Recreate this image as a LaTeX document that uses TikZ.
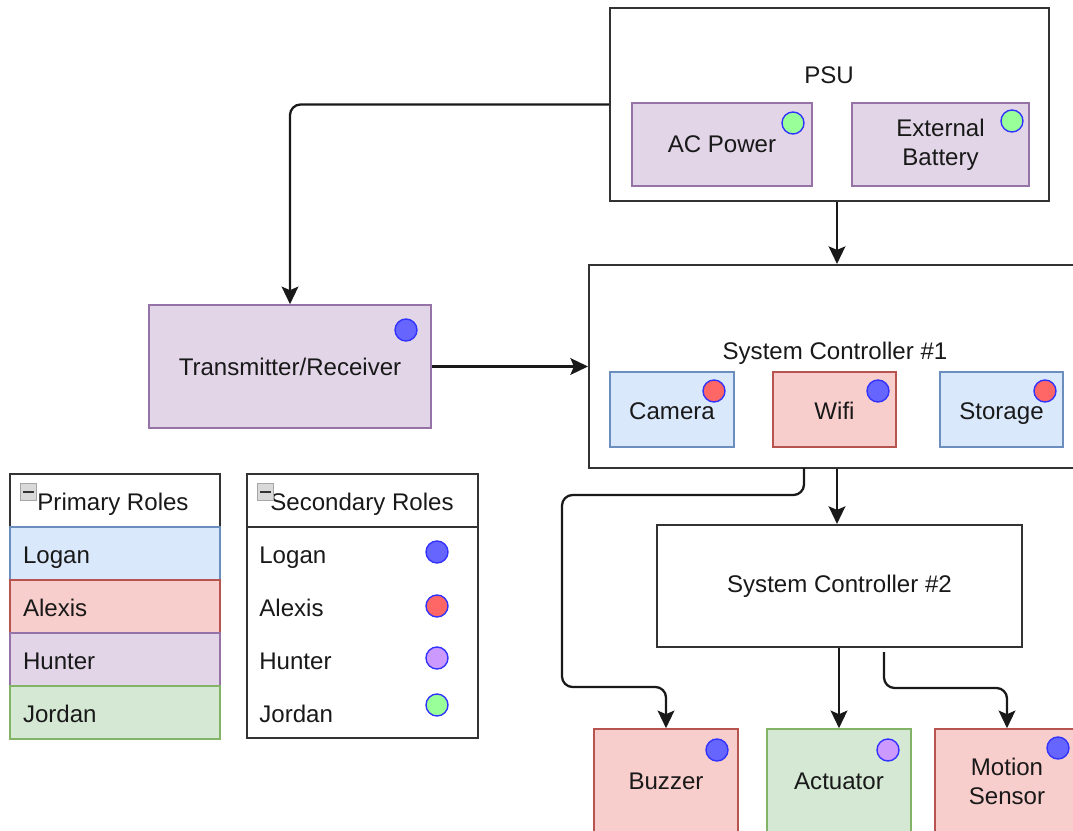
\documentclass[tikz,border=0pt]{standalone}
\usepackage{fontspec}
\setmainfont{Liberation Sans}
\usetikzlibrary{arrows.meta, positioning}

\definecolor{boxline}{HTML}{333333}
\definecolor{loganF}{HTML}{DAE8FC}\definecolor{loganD}{HTML}{6C8EBF}
\definecolor{alexisF}{HTML}{F8CECC}\definecolor{alexisD}{HTML}{B85450}
\definecolor{hunterF}{HTML}{E1D5E7}\definecolor{hunterD}{HTML}{9673A6}
\definecolor{jordanF}{HTML}{D5E8D4}\definecolor{jordanD}{HTML}{82B366}
\definecolor{dotline}{HTML}{3333FF}
\definecolor{dotL}{HTML}{6666FF}
\definecolor{dotA}{HTML}{FF6666}
\definecolor{dotH}{HTML}{CC99FF}
\definecolor{dotJ}{HTML}{99FF99}

\tikzset{
	every node/.style={font=\fontsize{13.7}{16.5}\selectfont, text=black!90},
	tx/.style={text height=12.5pt, text depth=1pt},
	box/.style={draw=boxline, line width=1.2pt, fill=white, rectangle},
	logan/.style={draw=loganD, fill=loganF, line width=0.9pt},
	alexis/.style={draw=alexisD, fill=alexisF, line width=0.9pt},
	hunter/.style={draw=hunterD, fill=hunterF, line width=0.9pt},
	jordan/.style={draw=jordanD, fill=jordanF, line width=0.9pt},
	dot/.style={circle, draw=dotline, line width=0.8pt, fill=#1, minimum size=0.44cm, inner sep=0pt},
	row/.style={tx, minimum height=1.06cm, text width=3.68cm, inner xsep=0.26cm, align=left},
	lbl/.style={tx, anchor=west, inner sep=0pt},
	minus/.style={draw=gray!70, fill=gray!30, minimum size=0.33cm, inner sep=0pt, rectangle},
	link/.style={->, line width=1.3pt, draw=black!90, rounded corners=6pt},
}

\begin{document}
\begin{tikzpicture}[x=0.02cm, y=-0.02cm, >={Stealth[length=10pt, width=9.5pt, inset=2pt]}]
	\useasboundingbox (0,0) rectangle (1073,831);
	\clip (0,0) rectangle (1073,831);

	% PSU
	\node[box, minimum width=8.78cm, minimum height=3.86cm] (psu) at (829.5,104.5) {};
	\node (psu-t) at (829,75) {PSU};
	\node[hunter, minimum width=3.6cm, minimum height=1.66cm] (acp) at (722,144.5) {AC Power};
	\node[hunter, minimum width=3.54cm, minimum height=1.66cm, align=center] (bat) at (940.5,144.5) {External\\Battery};
	\node[dot=dotJ] (acp-d) at (793,123) {};
	\node[dot=dotJ] (bat-d) at (1012,121) {};

	% Transmitter
	\node[hunter, minimum width=5.64cm, minimum height=2.46cm] (trx) at (290,366.5) {Transmitter/Receiver};
	\node[dot=dotL] (trx-d) at (406,330) {};

	% System Controller #1
	\node[box, minimum width=9.92cm, minimum height=4.06cm] (sc1) at (837,366.5) {};
	\node (sc1-t) at (835,353) {System Controller \#1};
	\node[logan, tx, minimum width=2.48cm, minimum height=1.5cm] (cam) at (672,409.5) {Camera};
	\node[alexis, tx, minimum width=2.46cm, minimum height=1.5cm] (wifi) at (834.5,409.5) {Wifi};
	\node[logan, tx, minimum width=2.46cm, minimum height=1.5cm] (sto) at (1001.5,409.5) {Storage};
	\node[dot=dotA] (cam-d) at (714,391) {};
	\node[dot=dotL] (wifi-d) at (878,391) {};
	\node[dot=dotA] (sto-d) at (1045,391) {};

	% System Controller #2 and outputs
	\node[box, minimum width=7.3cm, minimum height=2.44cm] (sc2) at (839.5,586) {System Controller \#2};
	\node[alexis, minimum width=2.88cm, minimum height=2.08cm] (buz) at (666,781) {Buzzer};
	\node[jordan, minimum width=2.88cm, minimum height=2.08cm] (act) at (839,781) {Actuator};
	\node[alexis, minimum width=2.88cm, minimum height=2.08cm, align=center] (mot) at (1007,781) {Motion\\Sensor};
	\node[dot=dotL] (buz-d) at (717,750) {};
	\node[dot=dotH] (act-d) at (888,750) {};
	\node[dot=dotL] (mot-d) at (1058,748) {};

	% Connections
	\coordinate (buz-src) at (804,468);
	\coordinate (mot-src) at (884,652);
	\draw[link] (psu.west) -| (trx.north);
	\draw[link] (sc1.north |- psu.south) -- (sc1.north);
	\draw[link] (trx) -- (sc1);
	\draw[link] (sc1.south) -- (sc1.south |- sc2.north);
	\draw[link] (buz-src) -- ++(0,27) -| (562,687) -| (buz.north);
	\draw[link] (sc2.south -| act.north) -- (act.north);
	\draw[link] (mot-src) -- ++(0,36) -| (mot.north);

	% Primary roles
	\node[box, minimum width=4.2cm, minimum height=1.06cm] (pri) at (115,500.5) {};
	\node[tx] (pri-t) at (113,500.5) {Primary Roles};
	\node[minus] (pri-m) at (28.5,492) {};
	\draw[gray!40!black, line width=1.2pt] ([xshift=-3pt]pri-m.center) -- ([xshift=3pt]pri-m.center);
	\node[row, logan] (pri-l) at (115,553.5) {Logan};
	\node[row, alexis] (pri-a) at (115,606.5) {Alexis};
	\node[row, hunter] (pri-h) at (115,659.5) {Hunter};
	\node[row, jordan] (pri-j) at (115,712.5) {Jordan};

	% Secondary roles
	\node[box, minimum width=4.62cm, minimum height=5.28cm] (sec) at (362.5,606) {};
	\draw[boxline, line width=1.2pt] (sec.west |- 0,527) -- (sec.east |- 0,527);
	\node[tx] (sec-t) at (362,500.5) {Secondary Roles};
	\node[minus] (sec-m) at (265.5,492) {};
	\draw[gray!40!black, line width=1.2pt] ([xshift=-3pt]sec-m.center) -- ([xshift=3pt]sec-m.center);
	\node[lbl] (sec-l) at (259,553.5) {Logan};
	\node[lbl] (sec-a) at (259,606.5) {Alexis};
	\node[lbl] (sec-h) at (259,659.5) {Hunter};
	\node[lbl] (sec-j) at (259,712.5) {Jordan};
	\node[dot=dotL] (sec-ld) at (437,552) {};
	\node[dot=dotA] (sec-ad) at (437,606) {};
	\node[dot=dotH] (sec-hd) at (437,658) {};
	\node[dot=dotJ] (sec-jd) at (437,705) {};
\end{tikzpicture}
\end{document}
